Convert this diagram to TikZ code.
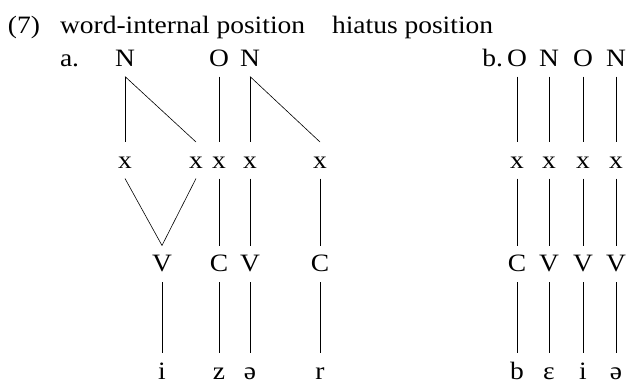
\documentclass[tikz,border=0pt]{standalone}
\usepackage{fontspec}
\setmainfont[FakeStretch=1.1]{Liberation Serif}
\begin{document}
\begin{tikzpicture}[x=1pt,y=-1pt,
  every node/.style={inner sep=0pt, outer sep=0pt, font=\fontsize{25}{29}\selectfont},
  lab/.style={anchor=base west},
  tn/.style={anchor=base, text height=15.5pt, text depth=0pt, outer xsep=0pt, outer ysep=10.5pt},
  assoc/.style={line width=0.6pt}]
\useasboundingbox (0,0) rectangle (626,383);
% title line
\node[lab] (num) at (8,33) {(7)};
\node[lab] (wi) at (60,33) {word-internal position};
\node[lab] (hp) at (332,33) {hiatus position};
\node[lab] (a) at (60,66) {a.};
\node[anchor=base east] (b) at (503,66) {b.};
% tree a
\node[tn] (aN1) at (125,66) {N};
\node[tn] (aO)  at (219,66) {O};
\node[tn] (aN2) at (250,66) {N};
\node[tn] (ax1) at (125,168) {x};
\node[tn] (ax2) at (196,168) {x};
\node[tn] (ax3) at (219,168) {x};
\node[tn] (ax4) at (250,168) {x};
\node[tn] (ax5) at (320,168) {x};
\node[tn] (aV1) at (162,271.5) {V};
\node[tn] (aC1) at (219,271.5) {C};
\node[tn] (aV2) at (250,271.5) {V};
\node[tn] (aC2) at (320,271.5) {C};
\node[tn] (as1) at (162,379) {i};
\node[tn] (as2) at (219,379) {z};
\node[tn] (as3) at (250,379) {ə};
\node[tn] (as4) at (320,379) {r};
\draw[assoc] (aN1.south) -- (ax1.north);
\draw[assoc] (aN1.south) -- (ax2.north);
\draw[assoc] (aO.south) -- (ax3.north);
\draw[assoc] (aN2.south) -- (ax4.north);
\draw[assoc] (aN2.south) -- (ax5.north);
\draw[assoc] (ax1.south) -- (aV1.north);
\draw[assoc] (ax2.south) -- (aV1.north);
\draw[assoc] (ax3.south) -- (aC1.north);
\draw[assoc] (ax4.south) -- (aV2.north);
\draw[assoc] (ax5.south) -- (aC2.north);
\draw[assoc] (aV1.south) -- (as1.north);
\draw[assoc] (aC1.south) -- (as2.north);
\draw[assoc] (aV2.south) -- (as3.north);
\draw[assoc] (aC2.south) -- (as4.north);
% tree b
\foreach \i/\xx/\top/\mid/\bot in {1/517/O/C/b, 2/549/N/V/ɛ, 3/583/O/V/i, 4/616/N/V/ə}{
  \node[tn] (bT\i) at (\xx,66) {\top};
  \node[tn] (bX\i) at (\xx,168) {x};
  \node[tn] (bM\i) at (\xx,271.5) {\mid};
  \node[tn] (bS\i) at (\xx,379) {\bot};
  \draw[assoc] (bT\i.south) -- (bX\i.north);
  \draw[assoc] (bX\i.south) -- (bM\i.north);
  \draw[assoc] (bM\i.south) -- (bS\i.north);
}
\end{tikzpicture}
\end{document}
